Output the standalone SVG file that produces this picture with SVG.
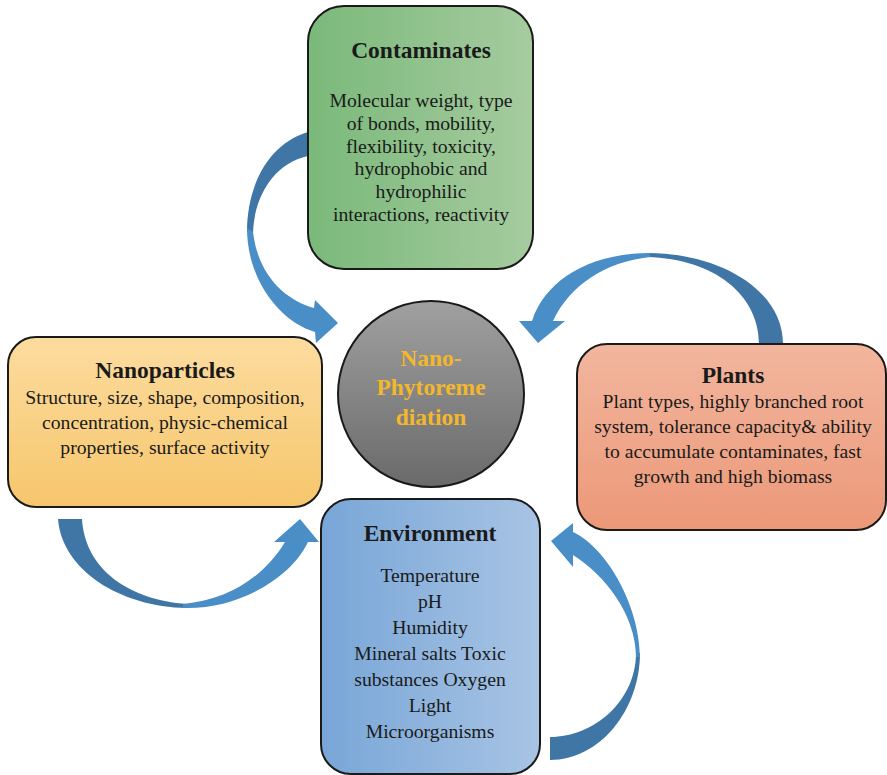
<svg xmlns="http://www.w3.org/2000/svg" width="887" height="775" viewBox="0 0 887 775">
<style>
.box{stroke:#1a1a1a;stroke-width:2}
.t{font-family:"Liberation Serif","Times New Roman",serif;font-size:23.5px;font-weight:bold;fill:#1a1a1a;text-anchor:middle}
.b{font-family:"Liberation Serif","Times New Roman",serif;font-size:19.7px;fill:#1a1a1a;text-anchor:middle}
.c{font-family:"Liberation Serif","Times New Roman",serif;font-size:23.5px;font-weight:bold;fill:#f3b72c;text-anchor:middle}
.dk{fill:#3f76a6}
.lt{fill:#4a8ec8}
</style>
<defs>
<linearGradient id="gG" x1="0" y1="0" x2="1" y2="0"><stop offset="0" stop-color="#7ab97a"/><stop offset="1" stop-color="#a6cb9f"/></linearGradient>
<linearGradient id="gO" x1="0" y1="0" x2="0" y2="1"><stop offset="0" stop-color="#fcdc9f"/><stop offset="1" stop-color="#f6c66c"/></linearGradient>
<linearGradient id="gR" x1="0" y1="0" x2="0" y2="1"><stop offset="0" stop-color="#f2b69e"/><stop offset="1" stop-color="#ec9878"/></linearGradient>
<linearGradient id="gB" x1="0" y1="0" x2="1" y2="0"><stop offset="0" stop-color="#78a6d7"/><stop offset="1" stop-color="#a8c4e4"/></linearGradient>
<linearGradient id="gC" x1="0" y1="0" x2="0" y2="1"><stop offset="0" stop-color="#a0a0a0"/><stop offset="1" stop-color="#6a6a6a"/></linearGradient>
</defs>
<g id="connectors">
<g id="arrow-contaminates">
<path class="dk" d="M308 132 C265 145 247 190 247 232 L253 234 C254 195 275 163 308 156 Z"/>
<path class="lt" d="M247 228 C247 280 280 322 315 332 L316 343 L338 323 L315 300 L314 308 C285 300 258 275 253 232 Z"/>
</g>
<g id="arrow-plants">
<path class="dk" d="M783 344 C783 290 720 253 647 253 L647 257 C715 259 759 295 759 344 Z"/>
<path class="lt" d="M650 253 C590 253 545 280 532 321 L519 321 L538 343 L565 321 L553 321 C570 285 605 262 650 257 Z"/>
</g>
<g id="arrow-nanoparticles">
<path class="dk" d="M58 519 C62 570 120 607 187 608 L187 604 C130 600 85 570 82 519 Z"/>
<path class="lt" d="M183 608 C235 610 290 580 308 542 L319 542 L300 519 L274 542 L285 542 C265 575 230 600 183 604 Z"/>
</g>
<g id="arrow-environment">
<path class="dk" d="M550 760 C600 760 640 710 640 653 L636 653 C636 700 595 737 550 737 Z"/>
<path class="lt" d="M640 657 C640 610 610 550 573 532 L573 523 L551 541 L573 567 L573 555 C605 575 636 615 636 657 Z"/>
</g>
</g>
<g id="contaminates">
<rect class="box" x="308" y="6" width="225" height="263" rx="36" fill="url(#gG)"/>
<text class="t" x="421" y="58">Contaminates</text>
<text class="b" x="421" y="107">Molecular weight, type</text>
<text class="b" x="421" y="130">of bonds, mobility,</text>
<text class="b" x="421" y="153">flexibility, toxicity,</text>
<text class="b" x="421" y="175">hydrophobic and</text>
<text class="b" x="421" y="198">hydrophilic</text>
<text class="b" x="421" y="221">interactions, reactivity</text>
</g>
<g id="nanoparticles">
<rect class="box" x="8" y="337" width="314" height="170" rx="28" fill="url(#gO)"/>
<text class="t" x="165" y="378">Nanoparticles</text>
<text class="b" x="165" y="404">Structure, size, shape, composition,</text>
<text class="b" x="165" y="429">concentration, physic-chemical</text>
<text class="b" x="165" y="454">properties, surface activity</text>
</g>
<g id="plants">
<rect class="box" x="577" y="344" width="309" height="186" rx="30" fill="url(#gR)"/>
<text class="t" x="733" y="383">Plants</text>
<text class="b" x="733" y="408">Plant types, highly branched root</text>
<text class="b" x="733" y="433">system, tolerance capacity&amp; ability</text>
<text class="b" x="733" y="458">to accumulate contaminates, fast</text>
<text class="b" x="733" y="483">growth and high biomass</text>
</g>
<g id="environment">
<rect class="box" x="321" y="499" width="219" height="275" rx="30" fill="url(#gB)"/>
<text class="t" x="430" y="541">Environment</text>
<text class="b" x="430" y="582">Temperature</text>
<text class="b" x="430" y="608">pH</text>
<text class="b" x="430" y="634">Humidity</text>
<text class="b" x="430" y="660">Mineral salts Toxic</text>
<text class="b" x="430" y="686">substances Oxygen</text>
<text class="b" x="430" y="712">Light</text>
<text class="b" x="430" y="738">Microorganisms</text>
</g>
<g id="center">
<circle cx="431" cy="394" r="93" fill="url(#gC)" stroke="#1a1a1a" stroke-width="2"/>
<text class="c" x="431" y="366">Nano-</text>
<text class="c" x="431" y="395">Phytoreme</text>
<text class="c" x="431" y="425">diation</text>
</g>
</svg>
